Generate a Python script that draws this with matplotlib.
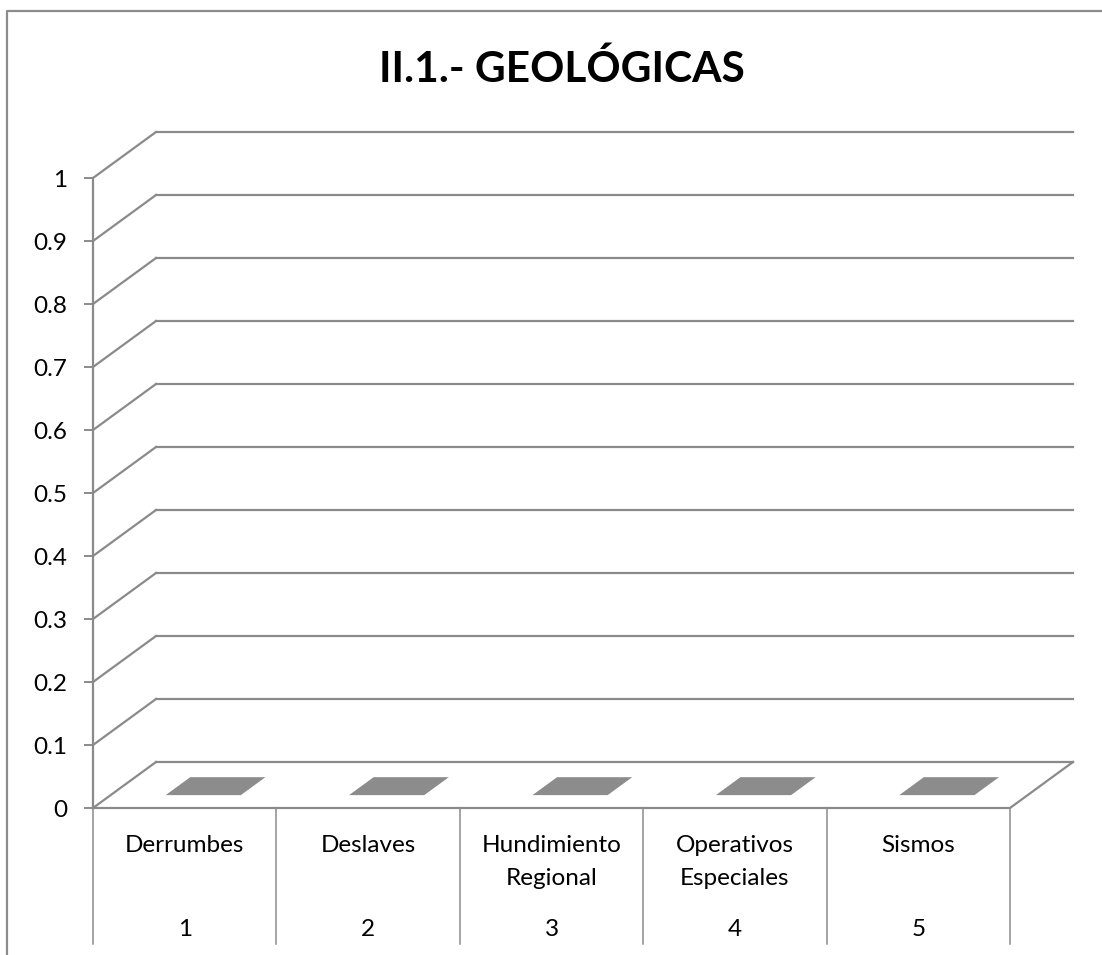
import matplotlib
matplotlib.use("Agg")
import matplotlib.pyplot as plt
from matplotlib.patches import Polygon

# ---------------- data ----------------
title = "II.1.- GEOLÓGICAS"
categories = ["Derrumbes", "Deslaves", "Hundimiento\nRegional", "Operativos\nEspeciales", "Sismos"]
numbers = ["1", "2", "3", "4", "5"]
values = [0, 0, 0, 0, 0]
yticks = [0, 0.1, 0.2, 0.3, 0.4, 0.5, 0.6, 0.7, 0.8, 0.9, 1]
ytick_labels = ["0", "0.1", "0.2", "0.3", "0.4", "0.5", "0.6", "0.7", "0.8", "0.9", "1"]

# ---------------- layout ----------------
W, H = 1102, 955
FX0, FX1 = 93, 1010        # front plane x extent (pixels)
FY0, FY1 = 808, 178        # y pixel of value 0 and value 1 on front plane
DX, DY = 63, -46           # full depth offset
ncat = len(categories)
catw = (FX1 - FX0) / ncat
vmax = 1.0

def proj(c, v, d):
    """c: category coordinate (0..ncat), v: value, d: depth (0 front .. 1 back)"""
    x = FX0 + c * catw + d * DX
    y = FY0 - (FY0 - FY1) * v / vmax + d * DY
    return (x, y)

grid_col = "#8a8a8a"
font = "Lato"

fig = plt.figure(figsize=(W / 100, H / 100), dpi=100)
ax = fig.add_axes([0, 0, 1, 1])
ax.set_xlim(0, W)
ax.set_ylim(H, 0)
ax.axis("off")

# chart border
ax.plot([7, 7, W + 5], [H + 5, 11, 11], color="#8c8c8c", lw=1.6, solid_capstyle="butt")

# back wall gridlines + left wall diagonals + tick marks + labels
for t, lab in zip(yticks, ytick_labels):
    ax.plot(*zip(proj(0, t, 1), proj(ncat, t, 1)), color=grid_col, lw=1.6)
    ax.plot(*zip(proj(0, t, 0), proj(0, t, 1)), color=grid_col, lw=1.6)
    px, py = proj(0, t, 0)
    ax.plot([px - 8, px], [py, py], color=grid_col, lw=1.4)
    ax.text(px - 26, py + 9, lab, ha="right", va="baseline", fontsize=17.5,
            family=font, color="#000000")

# left axis line
ax.plot(*zip(proj(0, 0, 0), proj(0, vmax, 0)), color=grid_col, lw=1.6)

# floor edges
ax.plot(*zip(proj(0, 0, 0), proj(ncat, 0, 0), proj(ncat, 0, 1)), color=grid_col, lw=1.6)

# bars (3D columns)
bar_col = "#8c8c8c"
for i, v in enumerate(values):
    c0, c1 = i + 0.3, i + 0.71
    d0, d1 = 0.28, 0.67
    top = [proj(c0, v, d0), proj(c1, v, d0), proj(c1, v, d1), proj(c0, v, d1)]
    if v > 0:
        front = [proj(c0, 0, d0), proj(c1, 0, d0), proj(c1, v, d0), proj(c0, v, d0)]
        side = [proj(c1, 0, d0), proj(c1, 0, d1), proj(c1, v, d1), proj(c1, v, d0)]
        ax.add_patch(Polygon(front, closed=True, fc=bar_col, ec="none"))
        ax.add_patch(Polygon(side, closed=True, fc="#6e6e6e", ec="none"))
    ax.add_patch(Polygon(top, closed=True, fc=bar_col, ec="none"))

# category table dividers
for i in range(ncat + 1):
    x, y = proj(i, 0, 0)
    ax.plot([x, x], [y, 944], color="#8c8c8c", lw=1.1)

# category labels
for i, (cat, num) in enumerate(zip(categories, numbers)):
    x, _ = proj(i + 0.5, 0, 0)
    for k, line in enumerate(cat.split("\n")):
        ax.text(x, 852 + 33 * k, line, ha="center", va="baseline", fontsize=17.5,
                family=font, color="#000000")
    ax.text(x, 936, num, ha="center", va="baseline", fontsize=17.5, family=font,
            color="#000000")

# title
ax.text(562, 82, title, ha="center", va="baseline", fontsize=30.5, family=font,
        fontweight="bold", color="#000000")

fig.savefig("out.png", dpi=100)
